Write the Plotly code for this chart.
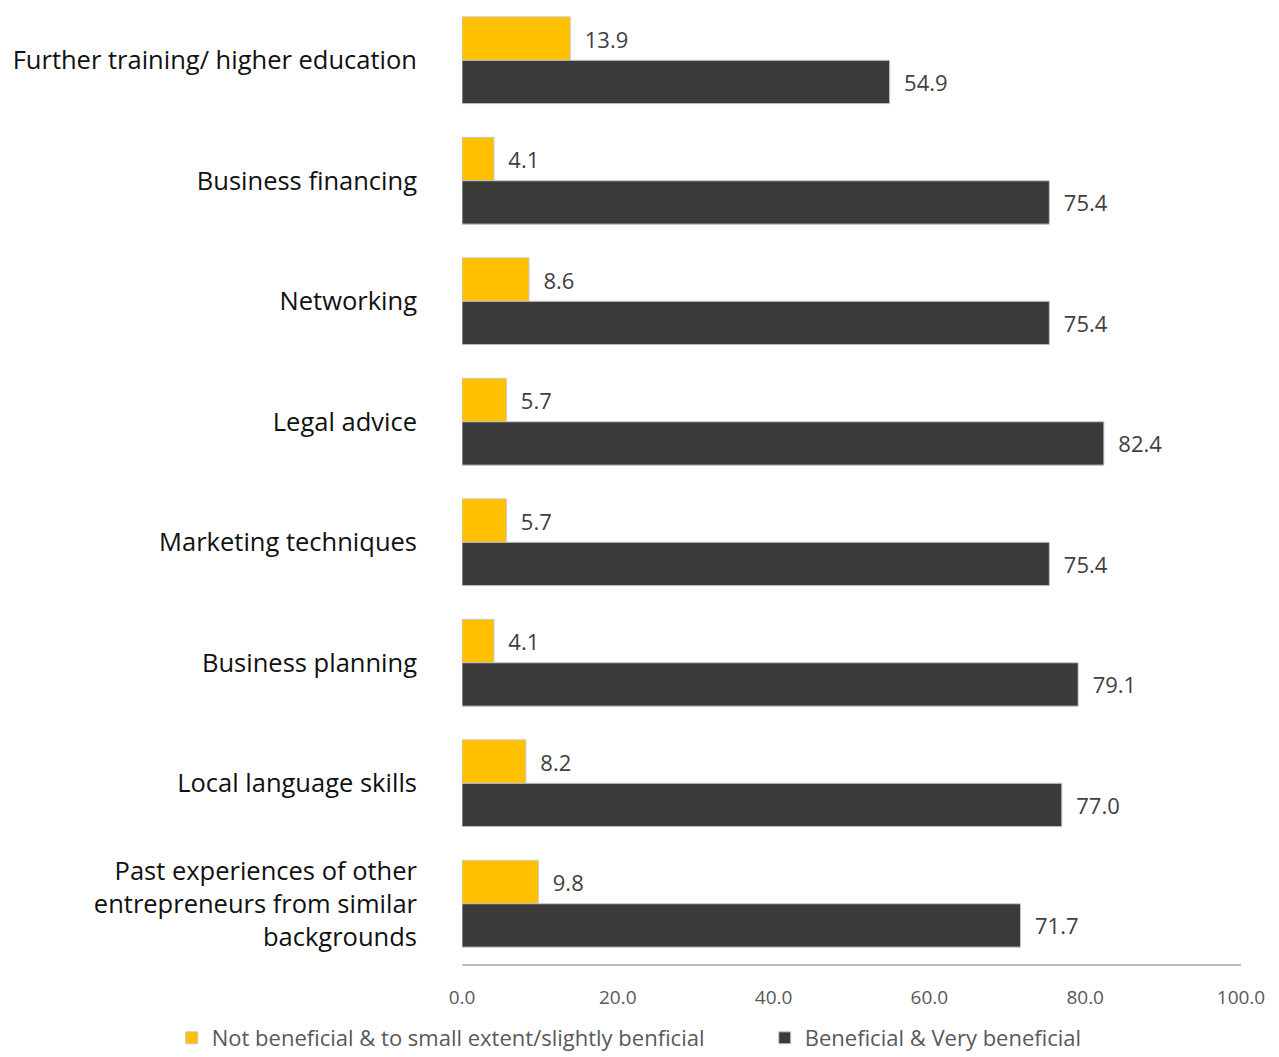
import plotly.graph_objects as go

# Support types, top to bottom
categories = [
    "Further training/ higher education",
    "Business financing",
    "Networking",
    "Legal advice",
    "Marketing techniques",
    "Business planning",
    "Local language skills",
    "Past experiences of other<br>entrepreneurs from similar<br>backgrounds",
]

# Share of respondents (%)
not_beneficial = [13.9, 4.1, 8.6, 5.7, 5.7, 4.1, 8.2, 9.8]
beneficial = [54.9, 75.4, 75.4, 82.4, 75.4, 79.1, 77.0, 71.7]

series_names = [
    "Not beneficial & to small extent/slightly benficial",
    "Beneficial & Very beneficial",
]
x_ticks = [0, 20, 40, 60, 80, 100]

FONT = "'Open Sans', Lato, sans-serif"
YELLOW = "#FFC000"
DARK = "#3B3A38"
PAD = "\u00a0\u00a0"

fig = go.Figure()
for name, vals, color in [
    (series_names[0], not_beneficial, YELLOW),
    (series_names[1], beneficial, DARK),
]:
    fig.add_trace(go.Bar(
        y=categories,
        x=vals,
        name=name,
        orientation="h",
        marker=dict(color=color, line=dict(color="#c8c8c8", width=1)),
        text=[f"{PAD}{v:.1f}" for v in vals],
        textposition="outside",
        textfont=dict(family=FONT, size=22, color="#404040"),
        cliponaxis=False,
        hoverinfo="skip",
    ))

fig.update_layout(
    width=1279,
    height=1057,
    margin=dict(l=462, r=38, t=0, b=93, autoexpand=False),
    barmode="group",
    bargap=0.28,
    bargroupgap=0,
    plot_bgcolor="white",
    paper_bgcolor="white",
    font=dict(family=FONT, color="#595959"),
    showlegend=True,
    legend=dict(
        orientation="h",
        x=-0.3726,
        xanchor="left",
        y=-0.0768,
        yanchor="middle",
        entrywidth=548,
        font=dict(family=FONT, size=22, color="#595959"),
        itemclick=False,
        itemdoubleclick=False,
    ),
)

fig.update_xaxes(
    range=[0, 100],
    tickvals=x_ticks,
    ticktext=[f"{v:.1f}" for v in x_ticks],
    showgrid=False,
    zeroline=False,
    showline=True,
    linecolor="#bfbfbf",
    linewidth=1.5,
    ticks="",
    ticklabelstandoff=15,
    tickfont=dict(family=FONT, size=19, color="#595959"),
)

fig.update_yaxes(
    autorange="reversed",
    showgrid=False,
    zeroline=False,
    showline=False,
    ticks="",
    ticklabelstandoff=44,
    tickfont=dict(family=FONT, size=25.5, color="#111111"),
)

fig.write_html("out.html")
